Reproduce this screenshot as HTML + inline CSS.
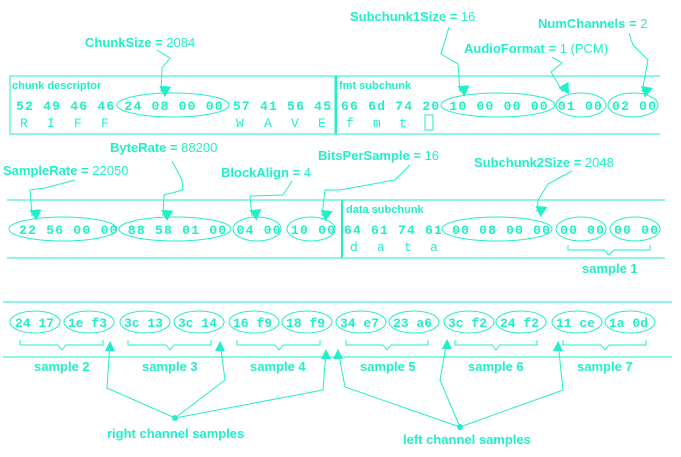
<!DOCTYPE html>
<html><head><meta charset="utf-8"><style>
html,body{margin:0;padding:0;background:#fff;}
svg{display:block;}
.b{font-family:"Liberation Sans",sans-serif;font-weight:bold;font-size:13px;fill:#22eec8;}
.v{font-family:"Liberation Sans",sans-serif;font-size:13px;fill:#22eec8;}
.h{font-family:"Liberation Mono",monospace;font-weight:bold;font-size:13px;fill:#22eec8;}
.l{font-family:"Liberation Mono",monospace;font-size:13px;fill:#22eec8;}
.s{font-family:"Liberation Sans",sans-serif;font-weight:bold;font-size:11px;fill:#22eec8;}
</style></head><body>
<svg width="681" height="457" viewBox="0 0 681 457" xmlns="http://www.w3.org/2000/svg">
<defs><marker id="a" markerWidth="12" markerHeight="12" refX="6" refY="10" orient="auto" markerUnits="userSpaceOnUse"><path d="M0,0 L12,0 L6,11 z" fill="#22eec8" transform="rotate(-90 6 6)"/></marker>
<marker id="u" markerWidth="10" markerHeight="10" refX="5" refY="1" orient="0" markerUnits="userSpaceOnUse"><path d="M5,0 L10,10 L0,10 z" fill="#22eec8"/></marker></defs>
<g stroke="#22eec8" fill="none" stroke-width="1">
<rect x="10" y="76" width="325" height="58"/>
<line x1="335" y1="76" x2="660" y2="76"/><line x1="335" y1="134" x2="660" y2="134"/>
<line x1="336" y1="76" x2="336" y2="134" stroke-width="2"/>
<ellipse cx="173" cy="105" rx="56" ry="12"/>
<ellipse cx="498" cy="105" rx="57" ry="12"/>
<ellipse cx="581" cy="105" rx="25" ry="12"/>
<ellipse cx="633" cy="105" rx="25" ry="12"/>
<line x1="7" y1="200" x2="665" y2="200"/><line x1="7" y1="258" x2="665" y2="258"/>
<line x1="342" y1="200" x2="342" y2="258" stroke-width="2"/>
<ellipse cx="63" cy="229" rx="54" ry="12"/>
<ellipse cx="175" cy="229" rx="56" ry="12"/>
<ellipse cx="257" cy="229" rx="24" ry="12"/>
<ellipse cx="311" cy="229" rx="24" ry="12"/>
<ellipse cx="497" cy="229" rx="55" ry="12"/>
<ellipse cx="581" cy="229" rx="25" ry="12"/>
<ellipse cx="635" cy="229" rx="25" ry="12"/>
<path d="M568,245 v5 h36 l5,5 l5,-5 h36 v-5"/>
<line x1="3" y1="302" x2="672" y2="302"/><line x1="3" y1="357" x2="672" y2="357"/>
<ellipse cx="35" cy="322" rx="25" ry="11"/><ellipse cx="89" cy="322" rx="25" ry="11"/>
<ellipse cx="145" cy="322" rx="25" ry="11"/><ellipse cx="199" cy="322" rx="25" ry="11"/>
<ellipse cx="254" cy="322" rx="25" ry="11"/><ellipse cx="307" cy="322" rx="25" ry="11"/>
<ellipse cx="361" cy="322" rx="25" ry="11"/><ellipse cx="414" cy="322" rx="25" ry="11"/>
<ellipse cx="469" cy="322" rx="25" ry="11"/><ellipse cx="521" cy="322" rx="25" ry="11"/>
<ellipse cx="577" cy="322" rx="25" ry="11"/><ellipse cx="630" cy="322" rx="25" ry="11"/>
<path d="M20,340 v5 h38 l4,5 l4,-5 h37 v-5"/>
<path d="M128,340 v5 h38 l4,5 l4,-5 h37 v-5"/>
<path d="M237,340 v5 h38 l4,5 l4,-5 h37 v-5"/>
<path d="M346,340 v5 h37 l4,5 l4,-5 h37 v-5"/>
<path d="M455,340 v5 h37 l4,5 l4,-5 h37 v-5"/>
<path d="M563,340 v5 h38 l4,5 l4,-5 h37 v-5"/>
<path d="M157,50 L170,58 L162,68 L161,92" marker-end="url(#a)"/>
<path d="M449,27 L441,54 L458,64 L460,92" marker-end="url(#a)"/>
<path d="M552,57 L562,63 L551,72 L563,92" marker-end="url(#a)"/>
<path d="M629,33 L633,45 L648,60 L642,92" marker-end="url(#a)"/>
<path d="M75,180 L45,188 L30,190 L32,216" marker-end="url(#a)"/>
<path d="M172,161 L182,180 L183,190 L164,195 L163,216" marker-end="url(#a)"/>
<path d="M292,181 L283,195 L250,196 L252,216" marker-end="url(#a)"/>
<path d="M410,165 L395,180 L340,190 L325,190 L322,216" marker-end="url(#a)"/>
<path d="M572,171 L548,184 L538,200 L537,212" marker-end="url(#a)"/>
<path d="M175,418 L107,388 L110,342" marker-end="url(#u)"/>
<path d="M175,418 L225,380 L220,342" marker-end="url(#u)"/>
<path d="M175,418 L323,390 L326,350" marker-end="url(#u)"/>
<path d="M460,427 L345,387 L338,350" marker-end="url(#u)"/>
<path d="M460,427 L440,380 L447,340" marker-end="url(#u)"/>
<path d="M460,427 L563,390 L558,342" marker-end="url(#u)"/>
</g>
<circle cx="175" cy="418" r="3" fill="#22eec8"/>
<circle cx="460" cy="427" r="3" fill="#22eec8"/>
<text x="85" y="47"><tspan class="b">ChunkSize = </tspan><tspan class="v">2084</tspan></text>
<text x="350" y="21"><tspan class="b">Subchunk1Size = </tspan><tspan class="v">16</tspan></text>
<text x="538" y="28"><tspan class="b">NumChannels = </tspan><tspan class="v">2</tspan></text>
<text x="464" y="53"><tspan class="b">AudioFormat = </tspan><tspan class="v">1 (PCM)</tspan></text>
<text x="110" y="152"><tspan class="b">ByteRate = </tspan><tspan class="v">88200</tspan></text>
<text x="3" y="175"><tspan class="b">SampleRate = </tspan><tspan class="v">22050</tspan></text>
<text x="221" y="177"><tspan class="b">BlockAlign = </tspan><tspan class="v">4</tspan></text>
<text x="318" y="160"><tspan class="b">BitsPerSample = </tspan><tspan class="v">16</tspan></text>
<text x="474" y="167"><tspan class="b">Subchunk2Size = </tspan><tspan class="v">2048</tspan></text>
<text class="s" x="12" y="89">chunk descriptor</text>
<text class="s" x="339" y="89">fmt subchunk</text>
<text class="s" x="346" y="213">data subchunk</text>
<text class="h" x="16" y="110" textLength="315" lengthAdjust="spacing">52 49 46 46 24 08 00 00 57 41 56 45</text>
<text class="l" x="20" y="127">R</text><text class="l" x="47" y="127">I</text><text class="l" x="74" y="127">F</text><text class="l" x="101" y="127">F</text>
<text class="l" x="236" y="127">W</text><text class="l" x="264" y="127">A</text><text class="l" x="291" y="127">V</text><text class="l" x="318" y="127">E</text>
<text class="h" x="341" y="110" textLength="315" lengthAdjust="spacing">66 6d 74 20 10 00 00 00 01 00 02 00</text>
<text class="l" x="346" y="127">f</text><text class="l" x="373" y="127">m</text><text class="l" x="399" y="127">t</text>
<rect x="425" y="115" width="8" height="15" fill="none" stroke="#22eec8"/>
<text class="h" x="19" y="234" textLength="316" lengthAdjust="spacing">22 56 00 00 88 58 01 00 04 00 10 00</text>
<text class="h" x="344" y="234" textLength="314" lengthAdjust="spacing">64 61 74 61 00 08 00 00 00 00 00 00</text>
<text class="l" x="350" y="251">d</text><text class="l" x="377" y="251">a</text><text class="l" x="404" y="251">t</text><text class="l" x="430" y="251">a</text>
<text class="b" x="582" y="273">sample 1</text>
<g class="h">
<text x="15" y="327">24 17</text><text x="68" y="327">1e f3</text>
<text x="124" y="327">3c 13</text><text x="178" y="327">3c 14</text>
<text x="233" y="327">16 f9</text><text x="286" y="327">18 f9</text>
<text x="340" y="327">34 e7</text><text x="393" y="327">23 a6</text>
<text x="448" y="327">3c f2</text><text x="500" y="327">24 f2</text>
<text x="556" y="327">11 ce</text><text x="609" y="327">1a 0d</text>
</g>
<text class="b" x="34" y="371">sample 2</text>
<text class="b" x="142" y="371">sample 3</text>
<text class="b" x="250" y="371">sample 4</text>
<text class="b" x="360" y="371">sample 5</text>
<text class="b" x="468" y="371">sample 6</text>
<text class="b" x="577" y="371">sample 7</text>
<text class="b" x="107" y="438">right channel samples</text>
<text class="b" x="403" y="444">left channel samples</text>
</svg>
</body></html>
